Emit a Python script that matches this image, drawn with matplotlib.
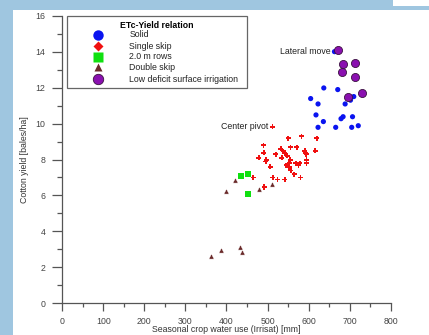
import matplotlib
matplotlib.use("Agg")
import matplotlib.pyplot as plt
from matplotlib.patches import Rectangle
from matplotlib.ticker import MultipleLocator

plt.rcParams['font.family'] = ['Liberation Sans', 'DejaVu Sans']

# ---- data ----
solid_x = [663, 637, 671, 605, 623, 710, 702, 689, 618, 636, 684, 679, 707, 623, 666, 705, 721]
solid_y = [14.0, 11.98, 11.89, 11.39, 11.09, 11.50, 11.30, 11.09, 10.48, 10.11, 10.38, 10.27,
           10.38, 9.79, 9.79, 9.79, 9.88]

single_x = [512, 550, 583, 620, 490, 556, 571, 532, 538, 542, 591, 593, 594, 616, 491, 520,
            548, 479, 535, 497, 496, 555, 595, 595, 569, 579, 553, 545, 575, 553, 506, 557,
            565, 580, 542, 524, 513, 465, 492]
single_y = [9.81, 9.18, 9.29, 9.18, 8.79, 8.68, 8.68, 8.59, 8.46, 8.35, 8.48, 8.38, 8.29, 8.48,
            8.38, 8.29, 8.20, 8.09, 8.09, 7.99, 7.88, 7.99, 7.99, 7.79, 7.79, 7.79, 7.79, 7.68,
            7.68, 7.57, 7.59, 7.38, 7.19, 6.99, 6.88, 6.88, 6.99, 6.99, 6.47]

rows2m_x = [435, 452, 453]
rows2m_y = [7.10, 7.20, 6.10]

double_x = [420, 400, 478, 510, 362, 386, 434, 438]
double_y = [6.85, 6.25, 6.36, 6.66, 2.65, 2.95, 3.15, 2.86]

lowdef_x = [671, 713, 683, 682, 713, 731, 697]
lowdef_y = [14.08, 13.39, 13.30, 12.89, 12.58, 11.70, 11.50]

legend_labels = ['Solid', 'Single skip', '2.0 m rows', 'Double skip',
                 'Low deficit surface irrigation']

W, H = 429, 335
BLUE_BG = '#9fc6e0'
AX_COL = '#555555'

fig = plt.figure(figsize=(W / 100, H / 100), dpi=100, facecolor=BLUE_BG)


def px(x, y):
    # pixel (from top-left) -> figure fraction
    return x / W, 1 - y / H


# white panel and the little white block top right
fig.patches.append(Rectangle(px(13, 335), (W - 13) / W, 325 / H, transform=fig.transFigure,
                             facecolor='white', edgecolor='none', zorder=-2))
fig.patches.append(Rectangle(px(393, 6), 36 / W, 6 / H, transform=fig.transFigure,
                             facecolor='white', edgecolor='none', zorder=-2))

x0, x1, y0, y1 = 62.3, 390.7, 303.3, 15.7
ax = fig.add_axes([x0 / W, 1 - y0 / H, (x1 - x0) / W, (y0 - y1) / H])
ax.set_zorder(1)
ax.set_facecolor('none')
ax.set_xlim(0, 800)
ax.set_ylim(0, 16)
for s in ['top', 'right']:
    ax.spines[s].set_visible(False)
for s in ['left', 'bottom']:
    ax.spines[s].set_color(AX_COL)
    ax.spines[s].set_linewidth(0.9)

ax.xaxis.set_major_locator(MultipleLocator(100))
ax.xaxis.set_minor_locator(MultipleLocator(50))
ax.yaxis.set_major_locator(MultipleLocator(2))
ax.yaxis.set_minor_locator(MultipleLocator(1))
ax.tick_params(axis='x', which='major', length=6, width=0.9, color=AX_COL, labelsize=6.3,
               labelcolor='#444444', pad=4)
ax.tick_params(axis='x', which='minor', length=3, width=0.9, color=AX_COL)
ax.tick_params(axis='y', which='major', length=7.5, width=0.9, color=AX_COL, labelsize=6.3,
               labelcolor='#444444', pad=4.5)
ax.tick_params(axis='y', which='minor', length=3.5, width=0.9, color=AX_COL)

ax.set_xlabel('Seasonal crop water use (Irrisat) [mm]', fontsize=6.3, color='#333333', labelpad=-1)
ax.set_ylabel('Cotton yield [bales/ha]', fontsize=6.3, color='#333333', labelpad=5)

ax.scatter(solid_x, solid_y, s=14, marker='o', color='#0a14f0', edgecolors='none', zorder=3)
ax.scatter(single_x, single_y, s=13, marker='P', color='#f01010', edgecolors='none', zorder=3)
ax.scatter(rows2m_x, rows2m_y, s=18, marker='s', color='#10e010', edgecolors='none', zorder=3)
ax.scatter(double_x, double_y, s=14, marker='^', color='#6a2a2a', edgecolors='white',
           linewidths=0.3, zorder=3)
ax.scatter(lowdef_x, lowdef_y, s=34, marker='o', color='#8a10b0', edgecolors='#3a1040',
           linewidths=0.6, zorder=4)

ax.annotate('Lateral move', (solid_x[0], solid_y[0]), xytext=(-3, 0), textcoords='offset points',
            ha='right', va='center', fontsize=6.3, color='#222222')
ax.annotate('Center pivot', (single_x[0], single_y[0]), xytext=(-3, 0), textcoords='offset points',
            ha='right', va='center', fontsize=6.3, color='#222222')

# hand-drawn legend box like the original software
lx0, ly0, lx1, ly1 = 67.3, 15.7, 246.7, 88.0
fig.patches.append(Rectangle(px(lx0, ly1), (lx1 - lx0) / W, (ly1 - ly0) / H,
                             transform=fig.transFigure, facecolor='white',
                             edgecolor='#666666', linewidth=0.9, zorder=5))
fig.text(*px(157, 25), 'ETc-Yield relation', fontsize=6.3, fontweight='bold',
         ha='center', va='center', zorder=6)
rows_y = [34.7, 46.3, 56.7, 67.3, 79.3]
styles = [dict(marker='o', color='#0a14f0', ms=7.5, mec='none'),
          dict(marker='D', color='#f01010', ms=5, mec='none'),
          dict(marker='s', color='#10e010', ms=7, mec='none'),
          dict(marker='^', color='#6a2a2a', ms=5.5, mec='none'),
          dict(marker='o', color='#8a10b0', ms=7.5, mec='#3a1040', mew=0.6)]
for ry, lab, st in zip(rows_y, legend_labels, styles):
    fx, fy = px(98.3, ry)
    fig.lines.append(plt.Line2D([fx], [fy], transform=fig.transFigure, linestyle='none',
                                zorder=6, **st))
    fig.text(*px(129.3, ry), lab, fontsize=6.3, ha='left', va='center', color='#222222', zorder=6)

fig.savefig('out.png', dpi=100, facecolor=BLUE_BG)
